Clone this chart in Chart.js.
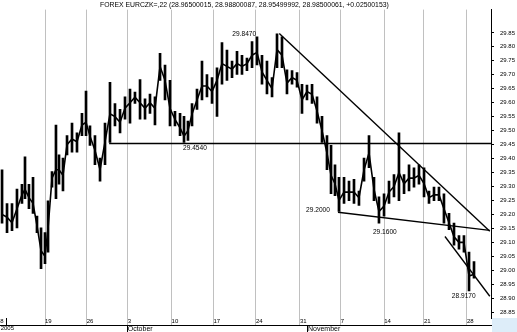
<!DOCTYPE html>
<html><head><meta charset="utf-8">
<script src="https://cdn.jsdelivr.net/npm/chart.js@4/dist/chart.umd.min.js"></script>
<style>html,body{margin:0;padding:0;background:#fff;}#c{display:block}</style>
</head><body>
<canvas id="c" width="517" height="332"></canvas>
<script>
const titleText = "FOREX EURCZK=,22 (28.96500015, 28.98800087, 28.95499992, 28.98500061, +0.02500153)";

// x = trading-day index from 12 Sep 2005
const days = [-0.09,0.50,1.09,1.68,2.27,2.63,3.10,3.58,4.05,4.53,5.00,5.36,5.83,6.30,6.66,7.13,7.61,8.20,8.79,9.38,
  9.86,10.33,10.92,11.52,12.11,12.70,13.29,13.89,14.48,15.07,15.66,16.26,16.85,17.44,18.03,18.63,19.22,19.81,20.40,21.00,
  21.47,21.94,22.42,23.01,23.60,24.19,24.79,25.38,25.97,26.56,27.16,27.75,28.34,28.93,29.53,30.12,30.71,31.30,31.90,32.49,
  33.08,33.67,34.27,34.86,35.45,36.04,36.64,37.23,37.82,38.41,38.89,39.36,39.83,40.43,41.02,41.61,42.20,42.80,43.39,43.98,
  44.57,45.17,45.76,46.35,46.94,47.54,48.13,48.72,49.31,49.91,50.50,51.09,51.68,52.27,52.87,53.46,54.05,54.64,55.24,55.83];
const highs = [29.360,29.239,29.239,29.291,29.308,29.406,29.308,29.333,29.194,29.152,29.135,29.249,29.353,29.520,29.413,29.402,29.482,29.527,29.492,29.562,
  29.642,29.517,29.482,29.402,29.527,29.673,29.597,29.576,29.621,29.649,29.638,29.683,29.614,29.631,29.621,29.777,29.735,29.680,29.569,29.562,
  29.551,29.534,29.597,29.649,29.749,29.701,29.690,29.725,29.815,29.788,29.749,29.784,29.770,29.760,29.819,29.836,29.770,29.749,29.690,29.847,
  29.836,29.718,29.715,29.708,29.666,29.663,29.666,29.621,29.551,29.482,29.447,29.378,29.333,29.333,29.319,29.326,29.284,29.402,29.482,29.333,
  29.263,29.274,29.319,29.343,29.492,29.343,29.378,29.367,29.378,29.367,29.284,29.298,29.298,29.274,29.204,29.169,29.124,29.124,29.065,29.031];
const lows = [29.169,29.135,29.142,29.152,29.239,29.256,29.221,29.204,29.135,29.006,29.024,29.065,29.298,29.256,29.308,29.284,29.413,29.423,29.423,29.482,
  29.482,29.447,29.378,29.319,29.378,29.458,29.517,29.492,29.541,29.527,29.597,29.541,29.541,29.562,29.520,29.680,29.610,29.517,29.517,29.482,
  29.458,29.465,29.517,29.576,29.610,29.621,29.597,29.551,29.666,29.680,29.690,29.701,29.701,29.715,29.725,29.735,29.666,29.631,29.621,29.725,
  29.725,29.631,29.666,29.656,29.562,29.610,29.597,29.527,29.458,29.360,29.274,29.267,29.211,29.239,29.249,29.239,29.232,29.319,29.367,29.249,
  29.169,29.194,29.239,29.263,29.249,29.274,29.284,29.298,29.308,29.263,29.239,29.249,29.249,29.169,29.145,29.090,29.076,29.065,28.926,28.972];
const closes = [29.20,29.19,29.17,29.22,29.27,29.29,29.26,29.24,29.16,29.07,29.05,29.15,29.33,29.36,29.36,29.34,29.45,29.47,29.46,29.52,
  29.53,29.48,29.43,29.36,29.46,29.56,29.55,29.53,29.58,29.60,29.62,29.60,29.58,29.60,29.58,29.73,29.68,29.58,29.54,29.51,
  29.48,29.50,29.56,29.61,29.66,29.66,29.64,29.68,29.74,29.73,29.72,29.74,29.73,29.74,29.77,29.78,29.71,29.68,29.65,29.79,
  29.77,29.67,29.69,29.68,29.61,29.64,29.63,29.57,29.50,29.42,29.34,29.31,29.25,29.28,29.28,29.28,29.26,29.36,29.42,29.29,
  29.21,29.23,29.28,29.30,29.35,29.31,29.33,29.33,29.34,29.31,29.26,29.27,29.27,29.22,29.17,29.12,29.10,29.10,28.98,28.985];

const priceTicks = [28.85,28.90,28.95,29.00,29.05,29.10,29.15,29.20,29.25,29.30,29.35,29.40,29.45,29.50,29.55,29.60,29.65,29.70,29.75,29.80,29.85];
const weekTickDays = [-0.3,0.4,5,9.95,14.8,20,24.95,30,35.2,40.05,45.2,49.9,55];
const weekLabels = ['8','','19','26','3','10','17','24','31','7','14','21','28'];
const monthTickDays = [-0.25,14.8,36.16];
const monthLabels = ['2005','October','November'];

const supportDays = [12.6,57.84];   const supportPrices = [29.454,29.454];
const trendADays = [32.76,57.7];    const trendAPrices = [29.8475,29.140];
const trendBDays = [39.71,57.7];    const trendBPrices = [29.208,29.143];
const trendCDays = [52.39,57.7];    const trendCPrices = [29.121,28.907];

const noteLabels = ['29.8470','29.4540','29.2000','29.1600','28.9170'];
const noteDays = [27.2,21.35,35.93,43.85,53.2];
const notePrices = [29.8465,29.4358,29.2163,29.1347,28.9073];

Chart.defaults.font.family = "'Liberation Sans', Arial, sans-serif";
Chart.defaults.color = '#000';

const pts = (xs, ys) => xs.map((x, i) => ({x, y: ys[i]}));
const lineDs = (xs, ys) => ({type:'line', data: pts(xs, ys), borderColor:'#000', borderWidth:1.4, pointRadius:0, tension:0, order:0});

const decor = {
  id:'decor',
  beforeDraw(chart){
    const {ctx, chartArea} = chart;
    ctx.save();
    ctx.fillStyle = '#ddedf9';
    ctx.fillRect(chartArea.right + 1, chartArea.bottom, 517 - chartArea.right - 1, 332 - chartArea.bottom);
    ctx.restore();
  },
  afterDraw(chart){
    const {ctx, scales} = chart;
    ctx.save();
    ctx.fillStyle = '#000';
    ctx.textBaseline = 'middle';
    ctx.textAlign = 'left';
    ctx.font = "6.85px 'Liberation Sans'";
    ctx.fillText(titleText, 100, 5);
    ctx.font = "6.6px 'Liberation Sans'";
    noteLabels.forEach((t, i) => {
      ctx.fillText(t, scales.x.getPixelForValue(noteDays[i]), scales.y.getPixelForValue(notePrices[i]));
    });
    ctx.restore();
  }
};

new Chart(document.getElementById('c'), {
  type:'bar',
  data:{
    datasets:[
      {type:'bar', data: days.map((d, i) => ({x:d, y:[lows[i], highs[i]]})), backgroundColor:'#000', borderWidth:0, barThickness:2, order:1},
      {type:'line', data: pts(days, closes), borderColor:'#000', borderWidth:1.6, pointRadius:0, tension:0, order:0},
      lineDs(supportDays, supportPrices),
      lineDs(trendADays, trendAPrices),
      lineDs(trendBDays, trendBPrices),
      lineDs(trendCDays, trendCPrices)
    ]
  },
  options:{
    responsive:false, devicePixelRatio:1, animation:false,
    layout:{padding:0},
    plugins:{legend:{display:false}, tooltip:{enabled:false}, title:{display:false}},
    scales:{
      x:{
        type:'linear', position:'bottom', min:-0.332, max:57.844, offset:false, weight:0,
        afterBuildTicks: s => { s.ticks = weekTickDays.map(v => ({value:v})); },
        afterFit: s => { s.height = 7; },
        border:{display:false},
        grid:{offset:false, tickLength:7,
          color: c => c.index < 2 ? 'rgba(0,0,0,0)' : '#c0c0c0',
          tickColor: c => c.index === 1 ? '#000' : (c.index === 0 ? 'rgba(0,0,0,0)' : '#c0c0c0')},
        ticks:{autoSkip:false, maxRotation:0, align:'start', padding:-7, font:{size:6},
          callback:(v, i) => weekLabels[i]}
      },
      x2:{
        type:'linear', position:'bottom', min:-0.332, max:57.844, offset:false, weight:1,
        afterBuildTicks: s => { s.ticks = monthTickDays.map(v => ({value:v})); },
        afterFit: s => { s.height = 7; },
        border:{display:true, color:'#000', width:1},
        grid:{offset:false, drawOnChartArea:false, tickLength:7,
          color: c => c.index === 0 ? 'rgba(0,0,0,0)' : '#000',
          tickColor: c => c.index === 0 ? 'rgba(0,0,0,0)' : '#000'},
        ticks:{autoSkip:false, maxRotation:0, align:'start', padding:-7,
          font: c => ({size: c.index === 0 ? 6 : 7}),
          callback:(v, i) => monthLabels[i]}
      },
      y:{
        type:'linear', position:'right', min:28.8292, max:29.9333,
        afterBuildTicks: s => { s.ticks = priceTicks.map(v => ({value:v})); },
        afterFit: s => { s.width = 26; },
        border:{display:true, color:'#000', dash:[1,1]},
        grid:{drawOnChartArea:false, tickLength:3, tickColor:'#000'},
        ticks:{padding:6, font:{size:6}, callback: v => v.toFixed(2)}
      }
    }
  },
  plugins:[decor]
});
</script>
</body></html>
